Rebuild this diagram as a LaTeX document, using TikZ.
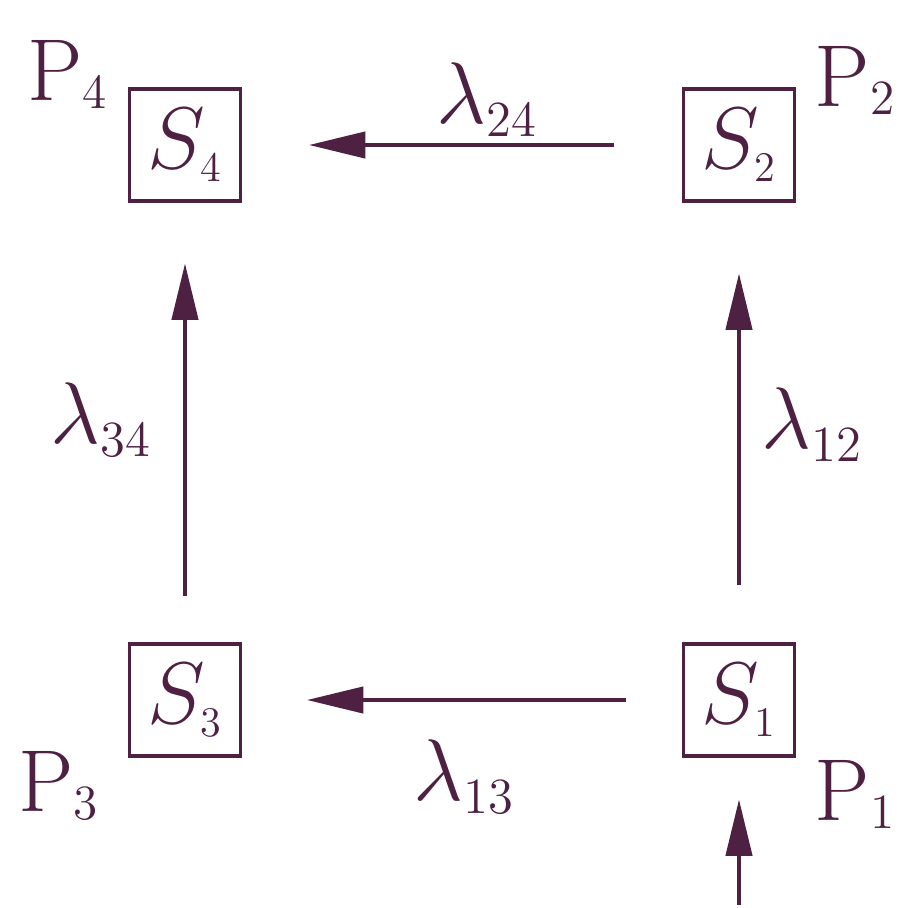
\documentclass[tikz,border=0pt]{standalone}
\usepackage{xcolor}
\usepackage{tikz}
\usetikzlibrary{arrows.meta,positioning}
\definecolor{tinta}{RGB}{78,32,66}

\begin{document}
\begin{tikzpicture}[x=0.01cm,y=-0.01cm,
    estado/.style={draw=tinta,line width=0.9pt,minimum width=1.11cm,minimum height=1.12cm,
      inner sep=0pt,text=tinta,font=\fontsize{26}{30}\selectfont},
    flecha/.style={draw=tinta,line width=0.9pt,-{Triangle[length=16pt,width=7.5pt]}},
    etiq/.style={text=tinta,font=\fontsize{27}{32}\selectfont,inner sep=0pt,anchor=base},
    prob/.style={text=tinta,font=\fontsize{25}{30}\selectfont,inner sep=0pt}]
    \useasboundingbox (0,0) rectangle (902,908);

    % Estados del sistema.
    \node[estado] (s4) at (185,145) {$S_{\scriptscriptstyle 4}$};
    \node[estado] (s2) at (739,145) {$S_{\scriptscriptstyle 2}$};
    \node[estado] (s3) at (185,700) {$S_{\scriptscriptstyle 3}$};
    \node[estado] (s1) at (739,700) {$S_{\scriptscriptstyle 1}$};

    % Probabilidades de los estados.
    \node[prob,anchor=base west] (p4) at (27,100) {P\raisebox{-2.5pt}{\fontsize{14}{16}\selectfont 4}};
    \node[prob,anchor=base east] (p2) at (895,106) {P\raisebox{-2.5pt}{\fontsize{14}{16}\selectfont 2}};
    \node[prob,anchor=base west] (p3) at (18,811) {P\raisebox{-2.5pt}{\fontsize{14}{16}\selectfont 3}};
    \node[prob,anchor=base east] (p1) at (895,820) {P\raisebox{-2.5pt}{\fontsize{14}{16}\selectfont 1}};

    % Transiciones.
    \draw[flecha,shorten <=0.68cm,shorten >=0.67cm] (s2) -- (s4);
    \draw[flecha,shorten <=0.56cm,shorten >=0.65cm] (s1) -- (s3);
    \draw[flecha,shorten <=0.46cm,shorten >=0.61cm] (s3) -- (s4);
    \draw[flecha,shorten <=0.57cm,shorten >=0.71cm] (s1) -- (s2);
    \coordinate (entrada) at (739,905);
    \draw[flecha,shorten >=0.42cm] (entrada) -- (s1);

    % Intensidades.
    \node[etiq] (l24) at (487,123) {$\lambda_{\scriptscriptstyle 24}$};
    \node[etiq] (l34) at (101,443) {$\lambda_{\scriptscriptstyle 34}$};
    \node[etiq] (l12) at (812,448) {$\lambda_{\scriptscriptstyle 12}$};
    \node[etiq] (l13) at (464,800) {$\lambda_{\scriptscriptstyle 13}$};
  \end{tikzpicture}
\end{document}
